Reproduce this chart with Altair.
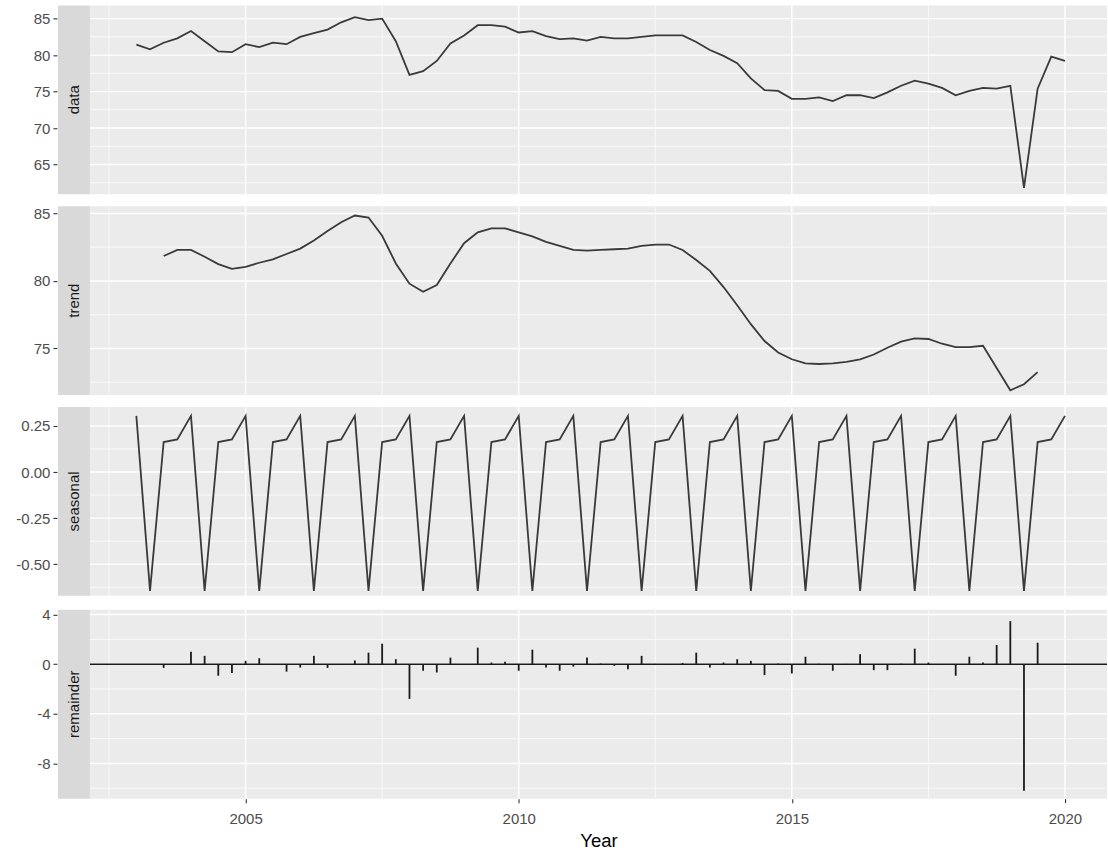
import altair as alt
import pandas as pd

# Quarterly series: first observation 2003 Q1, four observations per year
START_YEAR = 2003.0
PERIOD = 4

observed = [
    81.45, 80.8, 81.7, 82.3,
    83.3, 81.9, 80.5, 80.4,
    81.5, 81.1, 81.7, 81.5,
    82.5, 83.0, 83.5, 84.5,
    85.2, 84.8, 85.0, 81.9,
    77.3, 77.8, 79.2, 81.6,
    82.7, 84.1, 84.1, 83.9,
    83.1, 83.3, 82.6, 82.2,
    82.3, 82.0, 82.5, 82.3,
    82.3, 82.5, 82.7, 82.7,
    82.7, 81.8, 80.7, 79.9,
    78.9, 76.8, 75.2, 75.1,
    74.0, 74.0, 74.2, 73.7,
    74.5, 74.5, 74.1, 74.9,
    75.8, 76.5, 76.1, 75.5,
    74.5, 75.1, 75.5, 75.4,
    75.8, 61.8, 75.4, 79.8,
    79.2,
]

# Centred moving-average trend, defined from 2003 Q3 to 2019 Q3
TREND_START = 2003.5
trend = [
    81.85, 82.3,
    82.3, 81.8, 81.25, 80.9,
    81.05, 81.35, 81.6, 82.0,
    82.4, 83.0, 83.7, 84.35,
    84.85, 84.7, 83.35, 81.3,
    79.8, 79.2, 79.7, 81.3,
    82.8, 83.6, 83.9, 83.9,
    83.6, 83.3, 82.9, 82.6,
    82.3, 82.25, 82.3, 82.35,
    82.4, 82.6, 82.7, 82.7,
    82.3, 81.55, 80.75, 79.55,
    78.2, 76.8, 75.55, 74.7,
    74.2, 73.9, 73.85, 73.9,
    74.0, 74.2, 74.55, 75.05,
    75.5, 75.75, 75.7, 75.35,
    75.1, 75.1, 75.2, 73.55,
    71.9, 72.35, 73.25,
]

# Seasonal figure for Q1..Q4 (repeats every year)
seasonal_figure = [0.305, -0.645, 0.163, 0.177]

# Remainder, same span as the trend
remainder = [
    -0.3, -0.05,
    1.0, 0.67, -0.93, -0.72,
    0.27, 0.48, -0.05, -0.6,
    -0.27, 0.67, -0.3, -0.03,
    0.3, 0.93, 1.65, 0.4,
    -2.8, -0.53, -0.67, 0.53,
    -0.05, 1.33, 0.13, 0.2,
    -0.53, 1.17, -0.27, -0.53,
    -0.2, 0.53, 0.05, -0.13,
    -0.4, 0.67, 0.02, -0.02,
    0.1, 0.93, -0.27, 0.13,
    0.4, 0.27, -0.88, 0.05,
    -0.75, 0.6, 0.03, -0.53,
    0.02, 0.8, -0.48, -0.48,
    0.03, 1.25, 0.13, 0.02,
    -0.93, 0.6, 0.13, 1.55,
    3.47, -10.2, 1.73,
]

year_breaks = [2005, 2010, 2015, 2020]
year_minor = [2002.5, 2007.5, 2012.5, 2017.5]

data_breaks = [65, 70, 75, 80, 85]
data_minor = [62.5, 67.5, 72.5, 77.5, 82.5]
trend_breaks = [75, 80, 85]
trend_minor = [72.5, 77.5, 82.5]
seasonal_breaks = [-0.5, -0.25, 0.0, 0.25]
seasonal_minor = [-0.625, -0.375, -0.125, 0.125]
remainder_breaks = [-8, -4, 0, 4]
remainder_minor = [-10, -6, -2, 2]

# ---- tables -------------------------------------------------------------
obs_time = [START_YEAR + i / PERIOD for i in range(len(observed))]
trend_time = [TREND_START + i / PERIOD for i in range(len(trend))]
seasonal = [seasonal_figure[i % PERIOD] for i in range(len(observed))]

obs_df = pd.DataFrame({"t": obs_time, "v": observed})
trend_df = pd.DataFrame({"t": trend_time, "v": trend})
seas_df = pd.DataFrame({"t": obs_time, "v": seasonal})
rem_df = pd.DataFrame({"t": trend_time, "v": remainder})

# ---- styling ------------------------------------------------------------
W, H = 1018, 189
STRIP = 32
X_DOMAIN = [2002.15, 2020.77]
FONT = "Liberation Sans"
INK = "#3a3a3a"
GRID_MAJOR = 1.4
GRID_MINOR = 0.7

INT_LABEL = "(datum.value < 0 ? '-' : '') + format(abs(datum.value), 'd')"
DEC_LABEL = "(datum.value < 0 ? '-' : '') + format(abs(datum.value), '.2f')"


def make_panel(name, body_df, ydomain, ymajor, yminor, label_expr, kind, bottom=False):
    xs = alt.Scale(domain=X_DOMAIN, nice=False, zero=False)
    ys = alt.Scale(domain=ydomain, nice=False, zero=False)
    if bottom:
        xaxis = alt.Axis(values=year_breaks, format="d", grid=False, domain=False,
                         tickSize=4, tickColor="#333333", tickWidth=1.1,
                         labelFont=FONT, labelFontSize=15, labelColor="#4D4D4D",
                         labelPadding=9, title="Year", titleFont=FONT,
                         titleFontSize=18.5, titleFontWeight="normal",
                         titleColor="#000000", titlePadding=5)
    else:
        xaxis = None
    yaxis = alt.Axis(values=ymajor, labelExpr=label_expr, grid=False, domain=False,
                     tickSize=4, tickColor="#333333", tickWidth=1.1,
                     labelFont=FONT, labelFontSize=15, labelColor="#4D4D4D",
                     labelPadding=3, offset=STRIP + 1, title=None)

    def X(field):
        return alt.X(field, type="quantitative", scale=xs, axis=xaxis)

    def Y(field):
        return alt.Y(field, type="quantitative", scale=ys, axis=yaxis)

    v_minor = alt.Chart(pd.DataFrame({"x": year_minor})).mark_rule(
        color="white", strokeWidth=GRID_MINOR).encode(x=X("x"))
    v_major = alt.Chart(pd.DataFrame({"x": year_breaks})).mark_rule(
        color="white", strokeWidth=GRID_MAJOR).encode(x=X("x"))
    h_minor = alt.Chart(pd.DataFrame({"y": yminor})).mark_rule(
        color="white", strokeWidth=GRID_MINOR).encode(y=Y("y"))
    h_major = alt.Chart(pd.DataFrame({"y": ymajor})).mark_rule(
        color="white", strokeWidth=GRID_MAJOR).encode(y=Y("y"))

    layers = [v_minor, v_major, h_minor, h_major]

    if kind == "line":
        layers.append(
            alt.Chart(body_df).mark_line(color=INK, strokeWidth=1.8).encode(x=X("t"), y=Y("v"))
        )
    else:
        layers.append(
            alt.Chart(pd.DataFrame({"y": [0]})).mark_rule(color="#1a1a1a", strokeWidth=1.5)
            .encode(y=Y("y"))
        )
        layers.append(
            alt.Chart(body_df).mark_rule(color="#1a1a1a", strokeWidth=1.8)
            .encode(x=X("t"), y=Y("v"), y2=alt.datum(0))
        )

    strip_df = pd.DataFrame({"label": [name]})
    layers.append(
        alt.Chart(strip_df).mark_rect(color="#D9D9D9").encode(
            x=alt.value(-STRIP), x2=alt.value(0), y=alt.value(0), y2=alt.value(H))
    )
    layers.append(
        alt.Chart(strip_df).mark_text(angle=270, align="center", baseline="middle",
                                      font=FONT, fontSize=15, color="#1A1A1A")
        .encode(x=alt.value(-STRIP / 2), y=alt.value(H / 2), text="label:N")
    )
    return alt.layer(*layers).properties(width=W, height=H)


p_data = make_panel("data", obs_df, [60.93, 86.82], data_breaks, data_minor, INT_LABEL, "line")
p_trend = make_panel("trend", trend_df, [71.55, 85.54], trend_breaks, trend_minor, INT_LABEL, "line")
p_seas = make_panel("seasonal", seas_df, [-0.672, 0.353], seasonal_breaks, seasonal_minor,
                    DEC_LABEL, "line")
p_rem = make_panel("remainder", rem_df, [-10.84, 4.38], remainder_breaks, remainder_minor,
                   INT_LABEL, "bars", bottom=True)

chart = (
    alt.vconcat(p_data, p_trend, p_seas, p_rem, spacing=10)
    .properties(padding={"left": 15, "top": 4, "right": 0, "bottom": 0}, background="white")
    .configure(font=FONT)
    .configure_view(fill="#EBEBEB", strokeWidth=0)
)

chart.save("out.html", embed_options={"renderer": "svg", "actions": False})
